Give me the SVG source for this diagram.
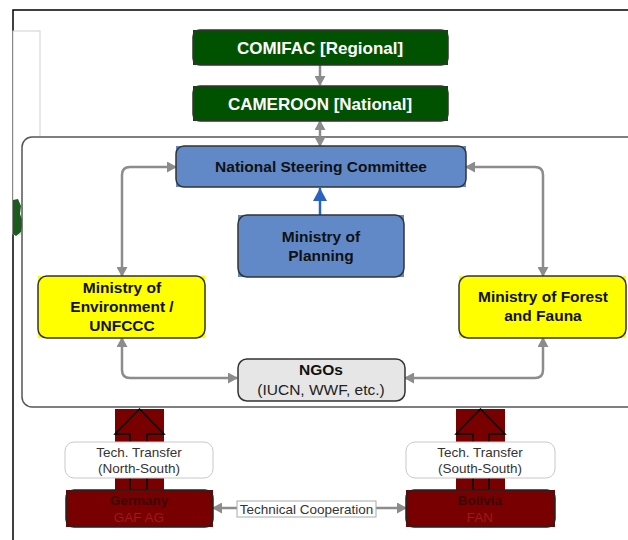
<svg xmlns="http://www.w3.org/2000/svg" width="628" height="540" viewBox="0 0 628 540">
<style>
text{font-family:"Liberation Sans",Arial,sans-serif;text-anchor:middle}
.b{font-weight:bold;font-size:15.5px;fill:#111}
.w{font-weight:bold;font-size:17px;fill:#fff}
.r{font-size:15.5px;fill:#222}
.s{font-size:13.5px;fill:#333}
.box{stroke:#333;stroke-width:1.5}
.con{fill:none;stroke:#8c8c8c;stroke-width:2.5}
</style>
<defs>
<marker id="ag" markerUnits="userSpaceOnUse" markerWidth="10" markerHeight="11" refX="9" refY="5.5" orient="auto-start-reverse"><path d="M0,0 L10,5.5 L0,11 Z" fill="#8c8c8c"/></marker>
<marker id="ab" markerUnits="userSpaceOnUse" markerWidth="13" markerHeight="14" refX="13" refY="7" orient="auto"><path d="M0,0 L13,7 L0,14 Z" fill="#2a62c0"/></marker>
</defs>
<rect x="0" y="0" width="628" height="540" fill="#fff"/>
<rect x="13" y="10" width="700" height="600" fill="#fff" stroke="#000" stroke-width="1.5"/>
<rect x="13" y="31" width="27" height="203" fill="#fff" stroke="#cfcfcf" stroke-width="1"/>
<path d="M13,200 L18,199 L21,206 L20,214 L23,222 L21,232 L16,236 L13,234 Z" fill="#1d5a1d"/>
<rect id="container" x="22" y="137" width="640" height="270" rx="10" fill="#fff" stroke="#555" stroke-width="1.5"/>

<g id="connectors">
<path class="con" d="M320,65 V85" marker-end="url(#ag)"/>
<path class="con" d="M320,121 V146" marker-start="url(#ag)" marker-end="url(#ag)"/>
<path d="M320,215 V188" fill="none" stroke="#2a62c0" stroke-width="2.5" marker-end="url(#ab)"/>
<path class="con" d="M176,167 H130 Q122,167 122,175 V276" marker-start="url(#ag)" marker-end="url(#ag)"/>
<path class="con" d="M466,167 H535 Q543,167 543,175 V276" marker-start="url(#ag)" marker-end="url(#ag)"/>
<path class="con" d="M122,338 V370 Q122,378 130,378 H237" marker-start="url(#ag)" marker-end="url(#ag)"/>
<path class="con" d="M543,338 V370 Q543,378 535,378 H405" marker-start="url(#ag)" marker-end="url(#ag)"/>
<path class="con" d="M213,508 H406" marker-start="url(#ag)" marker-end="url(#ag)"/>
</g>

<g id="comifac">
<rect x="193" y="30" width="255" height="35" fill="#005200"/>
<rect class="box" x="193" y="30" width="255" height="35" rx="7" fill="#005200"/>
<text class="w" x="320" y="53.5">COMIFAC [Regional]</text>
</g>
<g id="cameroon">
<rect x="193" y="86" width="255" height="35" fill="#005200"/>
<rect class="box" x="193" y="86" width="255" height="35" rx="7" fill="#005200"/>
<text class="w" x="320" y="109.5">CAMEROON [National]</text>
</g>
<g id="nsc">
<rect x="176" y="146" width="290" height="41" fill="#6189c7"/>
<rect class="box" x="176" y="146" width="290" height="41" rx="8" fill="#6189c7"/>
<text class="b" x="321" y="171.5">National Steering Committee</text>
</g>
<g id="planning">
<rect x="238" y="215" width="166" height="62" fill="#6189c7"/>
<rect class="box" x="238" y="215" width="166" height="62" rx="9" fill="#6189c7"/>
<text class="b" x="321" y="241.5">Ministry of</text>
<text class="b" x="321" y="260.5">Planning</text>
</g>
<g id="environment">
<rect x="38" y="276" width="167" height="62" fill="#ffff00"/>
<rect class="box" x="38" y="276" width="167" height="62" rx="9" fill="#ffff00"/>
<text class="b" x="122" y="292.5">Ministry of</text>
<text class="b" x="122" y="311.5">Environment /</text>
<text class="b" x="122" y="330.5">UNFCCC</text>
</g>
<g id="forest">
<rect x="459" y="276" width="167" height="62" fill="#ffff00"/>
<rect class="box" x="459" y="276" width="167" height="62" rx="9" fill="#ffff00"/>
<text class="b" x="543" y="302">Ministry of Forest</text>
<text class="b" x="543" y="321">and Fauna</text>
</g>
<g id="ngos">
<rect class="box" x="238" y="359" width="167" height="42" rx="9" fill="#e6e6e6"/>
<text class="b" x="321" y="375">NGOs</text>
<text class="r" x="321" y="395">(IUCN, WWF, etc.)</text>
</g>

<g id="transfer-north">
<rect x="115" y="409" width="49" height="81" fill="#780000"/>
<path d="M139.5,409 L115,434 L130,434 L130,490 L147,490 L147,434 L164,434 Z" fill="none" stroke="#000" stroke-width="1.5"/>
<rect x="65" y="442" width="148" height="36" rx="9" fill="#fff" stroke="#c8c8c8" stroke-width="1"/>
<text class="s" x="139" y="457">Tech. Transfer</text>
<text class="s" x="139" y="473">(North-South)</text>
</g>
<g id="transfer-south">
<rect x="456" y="409" width="49" height="81" fill="#780000"/>
<path d="M480.5,409 L456,434 L473,434 L473,490 L489,490 L489,434 L505,434 Z" fill="none" stroke="#000" stroke-width="1.5"/>
<rect x="406" y="442" width="149" height="36" rx="9" fill="#fff" stroke="#c8c8c8" stroke-width="1"/>
<text class="s" x="480" y="457">Tech. Transfer</text>
<text class="s" x="480" y="473">(South-South)</text>
</g>
<g id="germany">
<rect x="66" y="490" width="147" height="37" fill="#780000"/>
<rect x="66" y="490" width="147" height="37" rx="8" fill="#780000" stroke="#222" stroke-width="1.5"/>
<text x="139" y="505" style="font-weight:bold;font-size:13.5px;fill:#3c0505">Germany</text>
<text x="139" y="522" style="font-size:13.5px;fill:#a01818">GAF AG</text>
</g>
<g id="bolivia">
<rect x="406" y="490" width="149" height="37" fill="#780000"/>
<rect x="406" y="490" width="149" height="37" rx="8" fill="#780000" stroke="#222" stroke-width="1.5"/>
<text x="480" y="505" style="font-weight:bold;font-size:13.5px;fill:#3c0505">Bolivia</text>
<text x="480" y="522" style="font-size:13.5px;fill:#a01818">FAN</text>
</g>
<g id="tech-coop">
<rect x="237" y="501" width="139" height="16" fill="#fff" stroke="#aaa" stroke-width="1"/>
<text class="s" x="306.5" y="513.5">Technical Cooperation</text>
</g>
</svg>
